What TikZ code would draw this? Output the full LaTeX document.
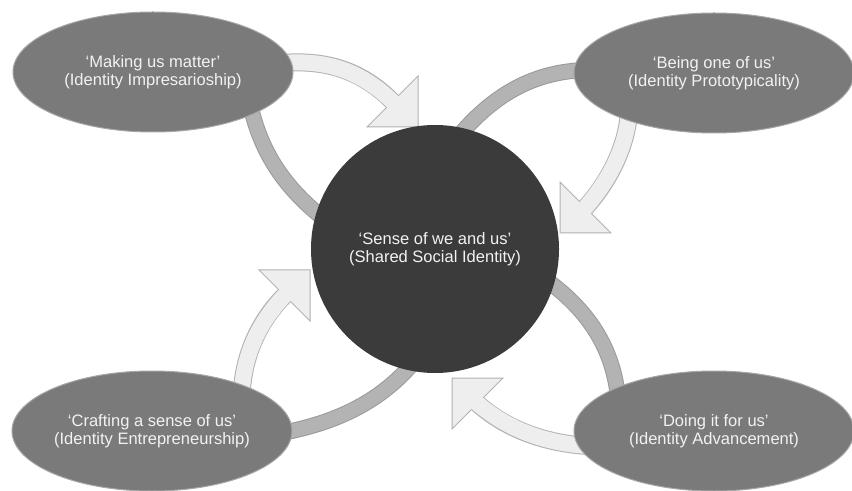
\documentclass[tikz,border=0pt]{standalone}
\usepackage{fontspec}
\setmainfont{Liberation Sans}
\usetikzlibrary{shapes.geometric,calc}
\pgfdeclarelayer{background}
\pgfsetlayers{background,main}
\definecolor{ellfill}{HTML}{7A7A7A}
\definecolor{ellrim}{HTML}{A6A6A6}
\definecolor{circfill}{HTML}{3B3B3B}
\definecolor{txt}{HTML}{F2F2F2}
\definecolor{lightfill}{HTML}{EEEEEE}
\definecolor{lightedge}{HTML}{B2B2B2}
\definecolor{bandfill}{HTML}{B3B3B3}
\definecolor{bandedge}{HTML}{999999}
\tikzset{
  labelfont/.style={font=\fontsize{12.4}{13.9}\selectfont},
  oval/.style={ellipse, fill=ellfill, draw=ellrim, line width=0.75pt,
    minimum width=210pt, minimum height=90pt, inner sep=0pt, outer sep=0pt,
    text=txt, align=center, labelfont},
  hub/.style={circle, fill=circfill, minimum size=186pt, inner sep=0pt,
    outer sep=0pt, text=txt, align=center, labelfont},
  bandout/.style={draw=bandedge, line width=12pt},
  bandin/.style={draw=bandfill, line width=10.5pt},
  shaftout/.style={draw=lightedge, line width=13.5pt},
  shaftin/.style={draw=lightfill, line width=12pt},
  headshape/.style={fill=lightfill, draw=lightedge, line width=0.75pt, line join=miter},
}
\begin{document}
\begin{tikzpicture}[x=0.75pt,y=-0.75pt]
\useasboundingbox (0,0) rectangle (852,491);

\node[hub]  (c)  at (435,249) {‘Sense of we and us’\\(Shared Social Identity)};
\node[oval] (tl) at (153,72)  {‘Making us matter’\\(Identity Impresarioship)};
\node[oval] (tr) at (714,73)  {‘Being one of us’\\(Identity Prototypicality)};
\node[oval] (bl) at (152,431) {‘Crafting a sense of us’\\(Identity Entrepreneurship)};
\node[oval] (br) at (714,431) {‘Doing it for us’\\(Identity Advancement)};

\coordinate (t1) at (418,127);
\coordinate (t2) at (560,233);
\coordinate (t3) at (310,270);
\coordinate (t4) at (452,378);
\coordinate (m1) at ($(t1)+(-25.5,-25.5)$);
\coordinate (m2) at ($(t2)+(25.5,-25.5)$);
\coordinate (m3) at ($(t3)+(-25.5,25.5)$);
\coordinate (m4) at ($(t4)+(25.5,25.5)$);

\begin{pgfonlayer}{background}
\fill[white] (0,0) rectangle (852,491);
% dark bands
\path[bandout, shorten <=-6pt, shorten >=-6pt] (tl.337) .. controls +(8,35) and +(-35,-28) .. (c.163);
\path[bandin,  shorten <=-6pt, shorten >=-6pt] (tl.337) .. controls +(8,35) and +(-35,-28) .. (c.163);
\path[bandout, shorten <=-6pt, shorten >=-6pt] (tr.179) .. controls +(-40,2) and +(30,-35) .. (c.76);
\path[bandin,  shorten <=-6pt, shorten >=-6pt] (tr.179) .. controls +(-40,2) and +(30,-35) .. (c.76);
\path[bandout, shorten <=-6pt, shorten >=-6pt] (bl.0) .. controls +(40,-8) and +(-30,35) .. (c.257);
\path[bandin,  shorten <=-6pt, shorten >=-6pt] (bl.0) .. controls +(40,-8) and +(-30,35) .. (c.257);
\path[bandout, shorten <=-6pt, shorten >=-6pt] (c.343) .. controls +(30,22) and +(-5,-45) .. (br.156);
\path[bandin,  shorten <=-6pt, shorten >=-6pt] (c.343) .. controls +(30,22) and +(-5,-45) .. (br.156);

% light arrows
\path[shaftout, shorten <=-6pt] (tl.4) .. controls +(40,-3) and +(-28,-28) .. (m1);
\path[headshape] (t1) -- ++(-51,0) -- ++(51,-51) -- cycle;
\path[shaftin, shorten <=-6pt, shorten >=-3pt] (tl.4) .. controls +(40,-3) and +(-28,-28) .. (m1);

\path[shaftout, shorten <=-6pt] (tr.209) .. controls +(-2,30) and +(20,-22) .. (m2);
\path[headshape] (t2) -- ++(51,0) -- ++(-51,-51) -- cycle;
\path[shaftin, shorten <=-6pt, shorten >=-3pt] (tr.209) .. controls +(-2,30) and +(20,-22) .. (m2);

\path[shaftout, shorten <=-6pt] (bl.27) .. controls +(2,-35) and +(-22,22) .. (m3);
\path[headshape] (t3) -- ++(-51,0) -- ++(51,51) -- cycle;
\path[shaftin, shorten <=-6pt, shorten >=-3pt] (bl.27) .. controls +(2,-35) and +(-22,22) .. (m3);

\path[shaftout, shorten <=-6pt] (br.186) .. controls +(-38,-3) and +(27,24) .. (m4);
\path[headshape] (t4) -- ++(51,0) -- ++(-51,51) -- cycle;
\path[shaftin, shorten <=-6pt, shorten >=-3pt] (br.186) .. controls +(-38,-3) and +(27,24) .. (m4);
\end{pgfonlayer}
\end{tikzpicture}
\end{document}
